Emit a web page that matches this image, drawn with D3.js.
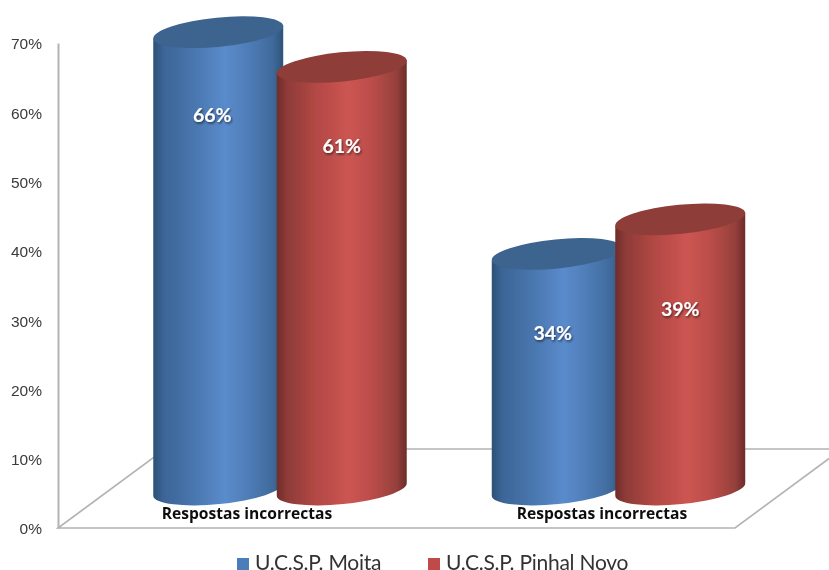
<!DOCTYPE html>
<html><head><meta charset="utf-8">
<script src="https://cdn.jsdelivr.net/npm/d3@7/dist/d3.min.js"></script>
<style>html,body{margin:0;padding:0;background:#fff;overflow:hidden}svg{display:block}</style>
</head><body><svg id="c" width="829" height="570"></svg>
<script>
const categories = ["Respostas incorrectas", "Respostas incorrectas"];
const seriesNames = ["U.C.S.P. Moita", "U.C.S.P. Pinhal Novo"];
const moitaValues = [66, 34];
const pinhalValues = [61, 39];
const tickValues = [0, 10, 20, 30, 40, 50, 60, 70];

const svg = d3.select("#c");
const defs = svg.append("defs");
const y = d3.scaleLinear().domain([0, 70]).range([528, 43]);
const depthX = 107, depthY = 79, floorLift = 38.5;
const groupX = d3.scaleBand().domain([0, 1]).range([110.75, 787.75]);
const seriesX = d3.scaleBand().domain([0, 1]).range([-123.5, 123.5]);
const catLabelX = d3.scalePoint().domain([0, 1]).range([247, 602]);
const a = 65.3, b = 14.6, tilt = -5.7;
const rad = tilt * Math.PI / 180, dx = a * Math.cos(rad), dy = a * Math.sin(rad);

const palettes = [
  {id:"gb", stops:[[0,"#2c5076"],[.08,"#3c6596"],[.3,"#4875ad"],[.55,"#5a8bcb"],[.72,"#4f7eb9"],[.92,"#3f6a9b"],[1,"#2e5378"]], top:"#3d638f", legend:"#4a7ebb"},
  {id:"gr", stops:[[0,"#6f2c2a"],[.08,"#8e3b38"],[.3,"#b24844"],[.55,"#cc5552"],[.72,"#bd4e4a"],[.92,"#96403c"],[1,"#6c2c2a"]], top:"#8f3c38", legend:"#be4b48"}
];
palettes.forEach(p => {
  const g = defs.append("linearGradient").attr("id", p.id).attr("x1", 0).attr("x2", 1).attr("y1", 0).attr("y2", 0);
  p.stops.forEach(s => g.append("stop").attr("offset", s[0]).attr("stop-color", s[1]));
});
const soft = defs.append("filter").attr("id", "soft").attr("x", "-5%").attr("y", "-5%").attr("width", "110%").attr("height", "110%");
soft.append("feGaussianBlur").attr("stdDeviation", 0.45);
const shadow = defs.append("filter").attr("id", "shadow").attr("x", "-20%").attr("y", "-30%").attr("width", "140%").attr("height", "160%");
shadow.append("feDropShadow").attr("dx", 1).attr("dy", 1.5).attr("stdDeviation", 0.9).attr("flood-color", "#000").attr("flood-opacity", 0.6);

const root = svg.append("g").attr("filter", "url(#soft)");

// floor + axis
const x0 = 58, x1 = 735, y0 = y(0), gray = "#b3b3b3";
root.append("path")
  .attr("d", `M${x0},${y0}L${x1},${y0}L${x1 + depthX},${y0 - depthY}L${x0 + depthX},${y0 - depthY}Z`)
  .attr("fill", "none").attr("stroke", gray).attr("stroke-width", 1.6);
const axis = root.append("g").attr("transform", `translate(${x0},0)`)
  .call(d3.axisLeft(y).tickValues(tickValues).tickSize(0).tickPadding(16).tickFormat(d => d + "%"));
axis.select(".domain").attr("stroke", gray).attr("stroke-width", 2);
axis.selectAll("text").attr("font-family", "Liberation Sans").attr("font-size", 15.5).attr("fill", "#3a3a3a").attr("transform", "translate(0,1)");

// cylinders
const bars = [];
categories.forEach((c, i) => {
  bars.push({cat:i, s:0, v:moitaValues[i]});
  bars.push({cat:i, s:1, v:pinhalValues[i]});
});
const labelShift = [[-6, 2], [0, -1], [-4, -1], [0, 9]];
bars.forEach((d, i) => {
  const p = palettes[d.s];
  const cx = groupX(d.cat) + groupX.bandwidth() / 2 + seriesX(d.s) + seriesX.bandwidth() / 2;
  const topY = y(d.v) - floorLift, botY = y(0) - floorLift;
  const g = root.append("g");
  g.append("path")
    .attr("d", `M${cx - dx},${topY - dy}L${cx - dx},${botY - dy}A${a},${b} ${tilt} 0 0 ${cx + dx},${botY + dy}L${cx + dx},${topY + dy}Z`)
    .attr("fill", `url(#${p.id})`);
  g.append("ellipse").attr("cx", 0).attr("cy", 0).attr("rx", a).attr("ry", b)
    .attr("transform", `translate(${cx},${topY}) rotate(${tilt})`)
    .attr("fill", p.top);
  root.append("text").attr("x", cx + labelShift[i][0]).attr("y", topY + 80 + labelShift[i][1])
    .attr("text-anchor", "middle").attr("dominant-baseline", "central")
    .attr("font-family", "Lato").attr("font-weight", 700).attr("font-size", 19.5)
    .attr("fill", "#fff").attr("filter", "url(#shadow)").text(d.v + "%");
});

// category labels
categories.forEach((c, i) => {
  root.append("text").attr("x", catLabelX(i)).attr("y", 519)
    .attr("text-anchor", "middle").attr("font-family", "Open Sans").attr("font-weight", 700)
    .attr("font-size", 15.6).attr("fill", "#111").text(c);
});

// legend
const legendX = [237, 428];
seriesNames.forEach((n, i) => {
  root.append("rect").attr("x", legendX[i]).attr("y", 558).attr("width", 12).attr("height", 12).attr("fill", palettes[i].legend);
  root.append("text").attr("x", legendX[i] + 18).attr("y", 570)
    .attr("font-family", "Lato").attr("font-size", 21).attr("letter-spacing", -0.25).attr("fill", "#333").text(n);
});
</script></body></html>
